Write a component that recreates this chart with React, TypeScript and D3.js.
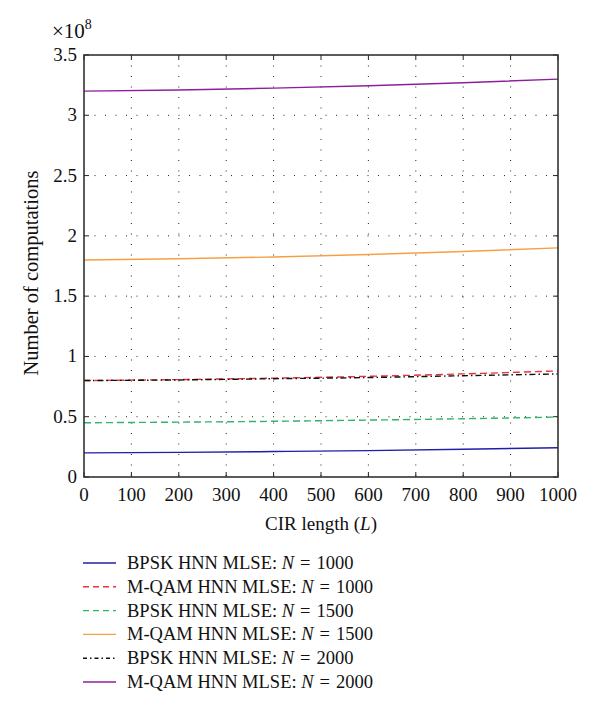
import React from "react"
import * as d3 from "d3"

// CIR length samples
const cirLength = [0, 200, 400, 600, 800, 1000]

// number of computations (x 1e8)
const bpsk1000 = [0.2, 0.204, 0.211, 0.219, 0.23, 0.243]
const mqam1000 = [0.8, 0.808, 0.82, 0.835, 0.855, 0.88]
const bpsk1500 = [0.45, 0.455, 0.462, 0.472, 0.483, 0.497]
const mqam1500 = [1.8, 1.81, 1.825, 1.845, 1.87, 1.9]
const bpsk2000 = [0.8, 0.805, 0.815, 0.825, 0.84, 0.855]
const mqam2000 = [3.2, 3.21, 3.225, 3.245, 3.27, 3.3]

const xTicks = [0, 100, 200, 300, 400, 500, 600, 700, 800, 900, 1000]
const yTicks = [0, 0.5, 1, 1.5, 2, 2.5, 3, 3.5]

const seriesLabels = ["BPSK HNN MLSE", "M-QAM HNN MLSE", "BPSK HNN MLSE", "M-QAM HNN MLSE", "BPSK HNN MLSE", "M-QAM HNN MLSE"]
const seriesN = ["1000", "1000", "1500", "1500", "2000", "2000"]

const series = [
  { values: bpsk1000, color: "#1f1fa8", dash: "" },
  { values: mqam1000, color: "#e8333b", dash: "7,4" },
  { values: bpsk1500, color: "#2fb36d", dash: "7,4" },
  { values: mqam1500, color: "#f5a045", dash: "" },
  { values: bpsk2000, color: "#111111", dash: "6,3,1.5,3" },
  { values: mqam2000, color: "#8e1f9c", dash: "" },
]

const font = "Liberation Serif, Times New Roman, serif"

export default function App() {
  const width = 600
  const height = 713
  const margin = { left: 84, top: 55, right: 42, bottom: 236 }
  const innerW = width - margin.left - margin.right
  const innerH = height - margin.top - margin.bottom

  const x = d3.scaleLinear().domain([0, 1000]).range([0, innerW])
  const y = d3.scaleLinear().domain([0, 3.5]).range([innerH, 0])

  const line = d3
    .line<number>()
    .x((d, i) => x(cirLength[i]))
    .y((d) => y(d))
    .curve(d3.curveMonotoneX)

  const tickLen = 5
  const legendY0 = 563
  const legendStep = 23.8

  return (
    <svg
      width={width}
      height={height}
      style={{ position: "absolute", left: 0, top: 0, background: "#fff", fontFamily: font }}
    >
      <g transform={`translate(${margin.left},${margin.top})`}>
        {/* grid */}
        {xTicks.slice(1, -1).map((t) => (
          <line key={"gx" + t} x1={x(t)} x2={x(t)} y1={0} y2={innerH} stroke="#222" strokeWidth={1} strokeDasharray="1,9.5" />
        ))}
        {yTicks.slice(1, -1).map((t) => (
          <line key={"gy" + t} x1={0} x2={innerW} y1={y(t)} y2={y(t)} stroke="#222" strokeWidth={1} strokeDasharray="1,9.5" />
        ))}

        {/* data lines */}
        {series.map((s, i) => (
          <path key={"s" + i} d={line(s.values) || ""} fill="none" stroke={s.color} strokeWidth={1.4} strokeDasharray={s.dash} />
        ))}

        {/* ticks */}
        {xTicks.map((t) => (
          <g key={"tx" + t}>
            <line x1={x(t)} x2={x(t)} y1={innerH} y2={innerH - tickLen} stroke="#222" />
            <line x1={x(t)} x2={x(t)} y1={0} y2={tickLen} stroke="#222" />
            <text x={x(t)} y={innerH + 24} textAnchor="middle" fontSize={19} fill="#111">
              {t}
            </text>
          </g>
        ))}
        {yTicks.map((t) => (
          <g key={"ty" + t}>
            <line x1={0} x2={tickLen} y1={y(t)} y2={y(t)} stroke="#222" />
            <line x1={innerW} x2={innerW - tickLen} y1={y(t)} y2={y(t)} stroke="#222" />
            <text x={-7} y={y(t) + 6} textAnchor="end" fontSize={19} fill="#111">
              {t}
            </text>
          </g>
        ))}

        {/* frame */}
        <rect x={0} y={0} width={innerW} height={innerH} fill="none" stroke="#333" strokeWidth={1.6} />

        {/* exponent */}
        <text x={-32} y={-17} fontSize={21} fill="#111">
          ×10<tspan dy={-9} fontSize={14}>8</tspan>
        </text>

        {/* axis labels */}
        <text x={innerW / 2} y={innerH + 53} textAnchor="middle" fontSize={19} fill="#111">
          CIR length (<tspan fontStyle="italic">L</tspan>)
        </text>
        <text
          transform={`translate(${-46},${innerH / 2 + 7}) rotate(-90)`}
          textAnchor="middle"
          fontSize={20.5}
          fill="#111"
        >
          Number of computations
        </text>
      </g>

      {/* legend */}
      {series.map((s, i) => (
        <g key={"lg" + i} transform={`translate(83,${legendY0 + i * legendStep})`}>
          <line x1={0} x2={33} y1={0} y2={0} stroke={s.color} strokeWidth={1.4} strokeDasharray={s.dash === "7,4" ? "6,4" : s.dash === "" ? "" : "4,3,1.5,3"} />
          <text x={44} y={6} fontSize={18.5} fill="#111">
            {seriesLabels[i] + ": "}
            <tspan fontStyle="italic">N</tspan>
            <tspan dx={6}>=</tspan>
            <tspan dx={6}>{seriesN[i]}</tspan>
          </text>
        </g>
      ))}
    </svg>
  )
}
